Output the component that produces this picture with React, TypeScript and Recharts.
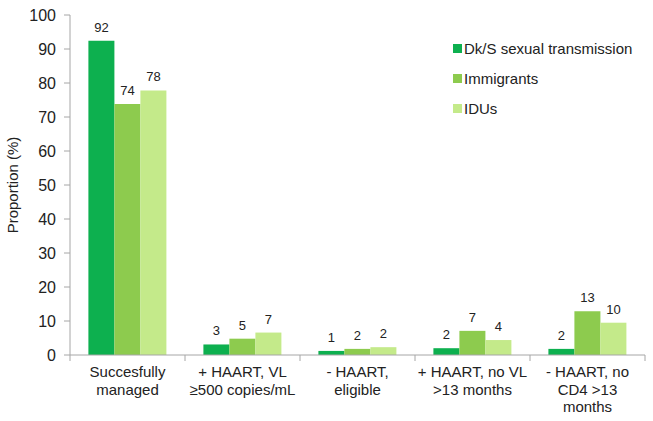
import { BarChart, Bar, XAxis, YAxis, LabelList } from "recharts";

const categories = [
  "Succesfully\nmanaged",
  "+ HAART, VL\n≥500 copies/mL",
  "- HAART,\neligible",
  "+ HAART, no VL\n>13 months",
  "- HAART, no\nCD4 >13\nmonths",
];

const dkSexual = [92.4, 3.1, 1.2, 2.0, 1.8];
const immigrants = [73.8, 4.8, 1.8, 7.1, 12.9];
const idus = [77.8, 6.6, 2.3, 4.4, 9.5];

const yTicks = [0, 10, 20, 30, 40, 50, 60, 70, 80, 90, 100];

const series = [
  { key: "dk", name: "Dk/S sexual transmission", color: "#0DB04F" },
  { key: "imm", name: "Immigrants", color: "#8DCB4E" },
  { key: "idu", name: "IDUs", color: "#C4EA8A" },
];

const data = categories.map((c, i) => ({
  name: c,
  dk: dkSexual[i],
  imm: immigrants[i],
  idu: idus[i],
}));

const FONT = "'Liberation Sans', Arial, sans-serif";
const BAND = 575 / categories.length;

const CategoryTick = (props: any) => {
  const { x, y, payload, index } = props;
  const lines = String(payload.value).split("\n");
  const left = x - BAND / 2;
  return (
    <g>
      <line x1={left} y1={y} x2={left} y2={y + 6} stroke="#A6A6A6" />
      {index === categories.length - 1 && (
        <line x1={x + BAND / 2} y1={y} x2={x + BAND / 2} y2={y + 6} stroke="#A6A6A6" />
      )}
      <text x={x} y={y} textAnchor="middle" fill="#222" fontSize={15} fontFamily={FONT}>
        {lines.map((l, i) => (
          <tspan key={i} x={x} dy={i === 0 ? 22 : 17.5}>
            {l}
          </tspan>
        ))}
      </text>
    </g>
  );
};

export default function App() {
  return (
    <div style={{ position: "absolute", left: 0, top: 0, width: 653, height: 421, background: "#fff" }}>
      <BarChart
        width={653}
        height={421}
        data={data}
        margin={{ top: 15, right: 8, bottom: 0, left: 0 }}
        barCategoryGap="16%"
        barGap={0}
      >
        <XAxis
          dataKey="name"
          interval={0}
          tick={<CategoryTick />}
          tickLine={false}
          tickSize={0}
          tickMargin={0}
          axisLine={{ stroke: "#A6A6A6" }}
          height={66}
        />
        <YAxis
          domain={[0, 100]}
          ticks={yTicks}
          width={70}
          tickSize={6}
          tickMargin={8}
          tick={{ fill: "#222", fontSize: 16, fontFamily: FONT }}
          tickLine={{ stroke: "#A6A6A6" }}
          axisLine={{ stroke: "#A6A6A6" }}
          label={{
            value: "Proportion (%)",
            angle: -90,
            position: "insideLeft",
            offset: 13,
            style: { textAnchor: "middle", fill: "#222", fontSize: 15, fontFamily: FONT },
          }}
        />
        {series.map((s) => (
          <Bar key={s.key} dataKey={s.key} name={s.name} fill={s.color} isAnimationActive={false}>
            <LabelList
              dataKey={s.key}
              position="top"
              offset={9}
              formatter={(v: any) => Math.round(Number(v))}
              style={{ fill: "#222", fontSize: 13, fontFamily: FONT }}
            />
          </Bar>
        ))}
      </BarChart>
      <div
        style={{
          position: "absolute",
          left: 453,
          top: 33,
          fontFamily: FONT,
          fontSize: 15,
          color: "#222",
        }}
      >
        {series.map((s) => (
          <div key={s.key} style={{ display: "flex", alignItems: "center", height: 30 }}>
            <span
              style={{ width: 9, height: 9, background: s.color, marginRight: 2, display: "inline-block" }}
            />
            {s.name}
          </div>
        ))}
      </div>
    </div>
  );
}
